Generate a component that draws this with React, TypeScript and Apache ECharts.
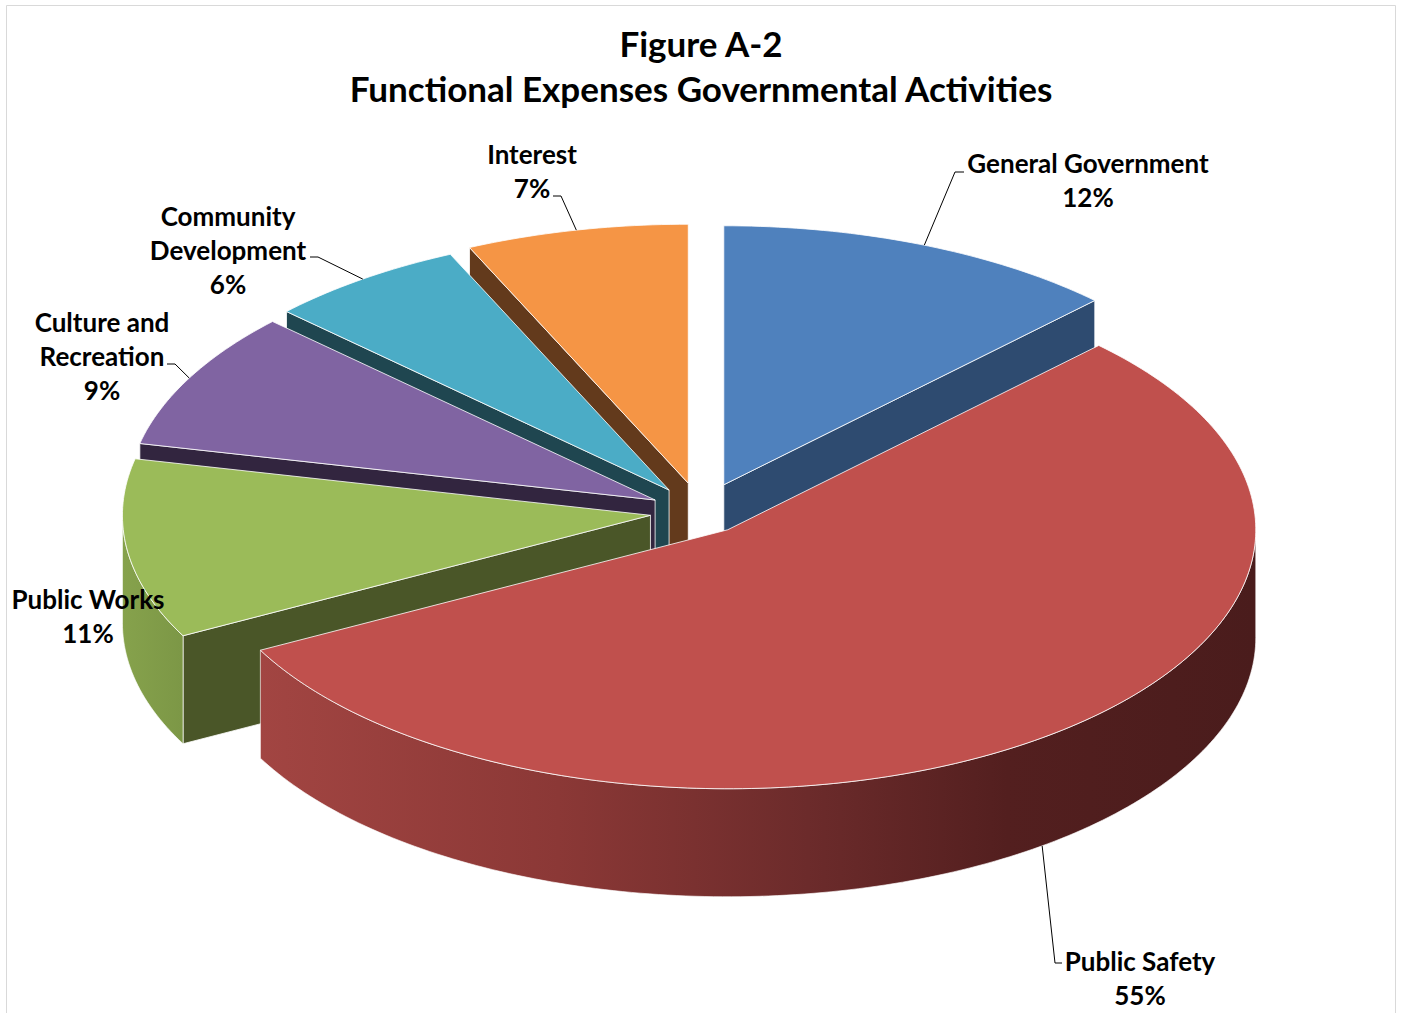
import React, { useEffect, useRef } from 'react';
import * as echarts from 'echarts';

// ---- data ----
const categories = ['General Government', 'Public Safety', 'Public Works', 'Culture and Recreation', 'Community Development', 'Interest'];
const labelNames = ['General Government', 'Public Safety', 'Public Works', 'Culture and\nRecreation', 'Community\nDevelopment', 'Interest'];
const values = [12.4, 54.9, 11.2, 8.6, 6.1, 6.8];
const titleLines = ['Figure A-2', 'Functional Expenses Governmental Activities'];

// ---- styles ----
const topColors = ['#4F81BD', '#C0504D', '#9BBB59', '#8064A2', '#4BACC6', '#F59545'];
const sideColors = ['#2E4B70', '#7A3030', '#4A5628', '#32253F', '#1F4650', '#633A1C'];
const outerStops: Array<Array<[number, string]>> = [
  [[0, '#3E6494'], [1, '#2A4466']],
  [[0, '#A24542'], [0.3, '#8B3836'], [0.55, '#6C2B2B'], [0.75, '#531F1F'], [1, '#4A1C1C']],
  [[0, '#86A24C'], [1, '#7C9746']],
  [[0, '#5E4A79'], [1, '#4A3A60']],
  [[0, '#3A8AA0'], [1, '#2C6C7E']],
  [[0, '#C77635'], [1, '#A05C28']],
];

// ---- layout (geometry + label placement) ----
const CX = 701, CY = 512, RX = 528, RY = 259, DEPTH = 108;
const explode = [60, 45, 51, 52, 55, 60];
const FONT = 'Lato, "Open Sans", sans-serif';
const labelPos: Array<[number, number]> = [[1088, 180], [1140, 978], [88, 616], [102, 356], [228, 250], [532, 171]];
const leaderElbows: Array<Array<[number, number]> | null> = [
  [[955, 172], [964, 172]],
  [[1055, 963], [1062, 963]],
  null,
  [[175, 364], [167, 364]],
  [[318, 257], [310, 257]],
  [[561, 196], [553, 196]],
];

const total = values.reduce((a, b) => a + b, 0);
const startAngles: number[] = [];
{
  let acc = 0;
  for (const v of values) { startAngles.push((acc / total) * 360); acc += v; }
}

const rad = (d: number) => (d * Math.PI) / 180;

export default function App() {
  const ref = useRef<HTMLDivElement>(null);
  useEffect(() => {
    if (!ref.current) return;
    const chart = echarts.init(ref.current, undefined, { renderer: 'svg' });

    const renderItem = (params: any, api: any) => {
      const i = params.dataIndex;
      const v = api.value(0);
      const span = (v / total) * 360;
      const a0 = startAngles[i];
      const a1 = a0 + span;
      const mid = a0 + span / 2;
      const E = explode[i];
      const ox = CX + E * Math.sin(rad(mid));
      const oy = CY - E * (RY / RX) * Math.cos(rad(mid));
      const edge = (a: number, dy = 0): [number, number] => [ox + RX * Math.sin(rad(a)), oy - RY * Math.cos(rad(a)) + dy];
      const arc = (s: number, e: number, dy = 0) => {
        const pts: Array<[number, number]> = [];
        const n = Math.max(2, Math.ceil(Math.abs(e - s) / 1));
        for (let k = 0; k <= n; k++) pts.push(edge(s + ((e - s) * k) / n, dy));
        return pts;
      };
      const stroke = 'rgba(255,255,255,0.8)';
      const front = (1 - Math.cos(rad(mid))) / 4; // 0 (back) .. 0.5 (front)
      const children: any[] = [];
      // top face
      children.push({
        type: 'polygon', z2: 3,
        shape: { points: [[ox, oy], ...arc(a0, a1)] },
        style: { fill: topColors[i], stroke, lineWidth: 1 },
      });
      // radial walls
      const radial = (a: number) => {
        const e = edge(a);
        children.push({
          type: 'polygon', z2: 1 + front,
          shape: { points: [[ox, oy], e, [e[0], e[1] + DEPTH], [ox, oy + DEPTH]] },
          style: { fill: sideColors[i], stroke, lineWidth: 1 },
        });
      };
      if (Math.sin(rad(a0)) < -1e-6) radial(a0);
      if (Math.sin(rad(a1)) > 1e-6) radial(a1);
      // outer curved wall (front half)
      const f0 = Math.max(a0, 90), f1 = Math.min(a1, 270);
      if (f1 > f0) {
        const topArc = arc(f0, f1);
        const botArc = arc(f1, f0, DEPTH);
        const xs = [...topArc, ...botArc].map((p) => p[0]);
        const minX = Math.min(...xs), maxX = Math.max(...xs);
        children.push({
          type: 'polygon', z2: 2,
          shape: { points: [...topArc, ...botArc] },
          style: {
            fill: new echarts.graphic.LinearGradient(minX, 0, maxX, 0,
              outerStops[i].map(([o, c]) => ({ offset: o, color: c })), true),
            stroke, lineWidth: 0.8,
          },
        });
      }
      // label
      const pct = Math.round((v / total) * 100) + '%';
      const [lx, ly] = labelPos[i];
      children.push({
        type: 'text', z2: 5, x: lx, y: ly,
        style: {
          text: labelNames[i] + '\n' + pct,
          align: 'center', verticalAlign: 'middle',
          font: `bold 26px ${FONT}`, lineHeight: 34, fill: '#000',
        },
      });
      const elb = leaderElbows[i];
      if (elb) {
        const inFront = mid > 90 && mid < 270;
        const anchor = edge(mid, inFront ? DEPTH : 0);
        children.push({
          type: 'polyline', z2: 4,
          shape: { points: [anchor, ...elb] },
          style: { stroke: '#000', lineWidth: 1, fill: null },
        });
      }
      return { type: 'group', children };
    };

    chart.setOption({
      animation: false,
      backgroundColor: '#fff',
      graphic: [
        { type: 'rect', shape: { x: 6.5, y: 5.5, width: 1389, height: 1020 }, style: { fill: 'none', stroke: '#d9d9d9', lineWidth: 1 } },
        { type: 'text', x: 701, y: 43, style: { text: titleLines[0], align: 'center', verticalAlign: 'middle', font: `bold 35px ${FONT}`, fill: '#000' } },
        { type: 'text', x: 701, y: 88, style: { text: titleLines[1], align: 'center', verticalAlign: 'middle', font: `bold 35px ${FONT}`, fill: '#000' } },
      ],
      series: [
        {
          type: 'custom',
          coordinateSystem: 'none',
          renderItem,
          data: values.map((v, k) => ({ name: categories[k], value: [v] })),
        },
      ],
    });
    return () => chart.dispose();
  }, []);
  return <div ref={ref} style={{ position: 'absolute', left: 0, top: 0, width: 1402, height: 1013 }} />;
}
